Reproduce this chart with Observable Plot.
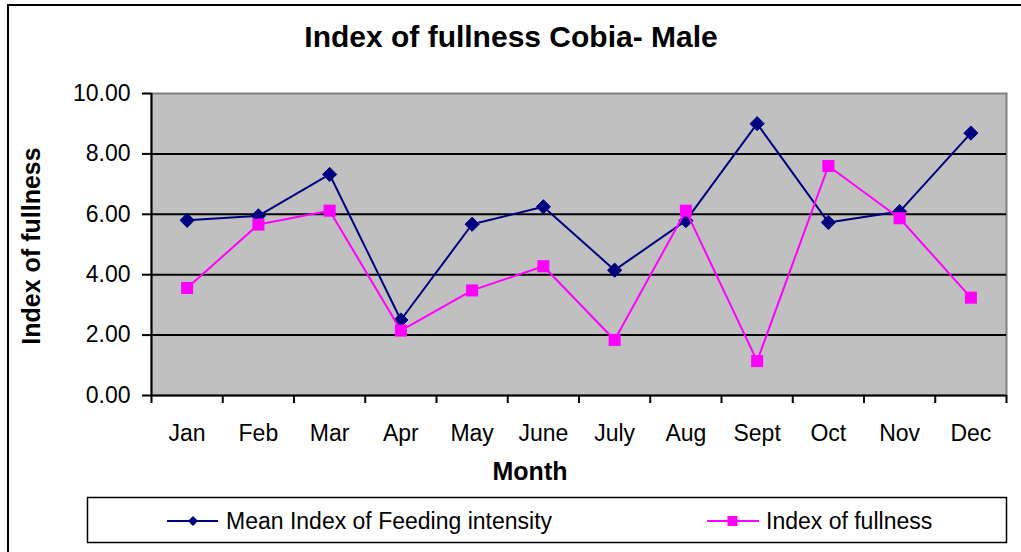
<!DOCTYPE html>
<html>
<head>
<meta charset="utf-8">
<script src="https://cdn.jsdelivr.net/npm/d3@7"></script>
<script src="https://cdn.jsdelivr.net/npm/@observablehq/plot@0.6"></script>
<style>
  html, body { margin: 0; padding: 0; background: #fff; }
  #chart { position: relative; width: 1021px; height: 552px; }
  svg { font-family: "Liberation Sans", Arial, sans-serif; }
</style>
</head>
<body>
<div id="chart"></div>
<script>
const months = ["Jan","Feb","Mar","Apr","May","June","July","Aug","Sept","Oct","Nov","Dec"];
const feedingIntensity = [5.80, 5.95, 7.32, 2.50, 5.67, 6.25, 4.15, 5.79, 9.00, 5.73, 6.09, 8.69];
const fullness = [3.56, 5.66, 6.12, 2.15, 3.48, 4.28, 1.84, 6.12, 1.14, 7.60, 5.87, 3.24];
const yTicks = [0, 2, 4, 6, 8, 10];
const seriesNames = ["Mean Index of Feeding intensity", "Index of fullness"];
const colors = ["#000080", "#FF00FF"];

const blueData = months.map((m, i) => ({i: i + 0.5, v: feedingIntensity[i]}));
const pinkData = months.map((m, i) => ({i: i + 0.5, v: fullness[i]}));
const boundaries = d3.range(0, months.length + 1);
const centers = months.map((m, i) => i + 0.5);

const svg = Plot.plot({
  width: 1021,
  height: 552,
  marginLeft: 151,
  marginRight: 15,
  marginTop: 93,
  marginBottom: 157,
  style: {fontFamily: "'Liberation Sans', Arial, sans-serif", background: "transparent", color: "#000"},
  x: {domain: [0, months.length]},
  y: {domain: [0, 10]},
  marks: [
    Plot.frame({fill: "#C0C0C0", stroke: "#808080", strokeWidth: 2}),
    Plot.gridY([2, 4, 6, 8], {stroke: "#000", strokeOpacity: 1, strokeWidth: 2}),
    Plot.axisY({ticks: yTicks, tickFormat: d3.format(".2f"), tickSize: 9, tickPadding: 12, fontSize: 23, stroke: "#000", strokeWidth: 2, label: null}),
    Plot.axisX({ticks: boundaries, tickFormat: () => "", tickSize: 8, stroke: "#000", strokeWidth: 2, label: null}),
    Plot.axisX({ticks: centers, tickFormat: d => months[Math.floor(d)], tickSize: 0, tickPadding: 29, fontSize: 23, label: null}),
    Plot.ruleX([0], {stroke: "#000", strokeWidth: 2}),
    Plot.ruleY([0], {stroke: "#000", strokeWidth: 2}),
    Plot.line(blueData, {x: "i", y: "v", stroke: colors[0], strokeWidth: 2}),
    Plot.dot(blueData, {x: "i", y: "v", symbol: "diamond2", r: 6.4, fill: colors[0], stroke: colors[0], strokeWidth: 1}),
    Plot.line(pinkData, {x: "i", y: "v", stroke: colors[1], strokeWidth: 2}),
    Plot.dot(pinkData, {x: "i", y: "v", symbol: "square", r: 6.8, fill: colors[1], stroke: "none"})
  ]
});

const s = d3.select(svg);
// outer chart border
s.append("path").attr("d", "M8,552 L8,5 L1021,5").attr("fill", "none").attr("stroke", "#000").attr("stroke-width", 2);
// title
s.append("text").attr("x", 511).attr("y", 46.5).attr("text-anchor", "middle")
  .attr("font-size", 30).attr("font-weight", "bold").text("Index of fullness Cobia- Male");
// y title
s.append("text").attr("transform", "translate(40,246) rotate(-90)").attr("text-anchor", "middle")
  .attr("font-size", 25).attr("font-weight", "bold").text("Index of fullness");
// x title
s.append("text").attr("x", 530).attr("y", 480).attr("text-anchor", "middle")
  .attr("font-size", 25).attr("font-weight", "bold").text("Month");
// legend
const lg = s.append("g").attr("text-anchor", "start");
lg.append("rect").attr("x", 87.5).attr("y", 497.5).attr("width", 919).attr("height", 45)
  .attr("fill", "#fff").attr("stroke", "#000").attr("stroke-width", 1.5);
const ly = 521;
lg.append("line").attr("x1", 167).attr("x2", 218).attr("y1", ly).attr("y2", ly).attr("stroke", colors[0]).attr("stroke-width", 2);
lg.append("path").attr("d", `M193,${ly-5} L198,${ly} L193,${ly+5} L188,${ly} Z`).attr("fill", colors[0]);
lg.append("text").attr("x", 226).attr("y", 528.5).attr("text-anchor", "start").attr("font-size", 23).text(seriesNames[0]);
lg.append("line").attr("x1", 707).attr("x2", 759).attr("y1", ly).attr("y2", ly).attr("stroke", colors[1]).attr("stroke-width", 2);
lg.append("rect").attr("x", 727.5).attr("y", ly - 5).attr("width", 10).attr("height", 10).attr("fill", colors[1]);
lg.append("text").attr("x", 766).attr("y", 528.5).attr("text-anchor", "start").attr("font-size", 23).text(seriesNames[1]);

document.getElementById("chart").appendChild(svg);
</script>
</body>
</html>
